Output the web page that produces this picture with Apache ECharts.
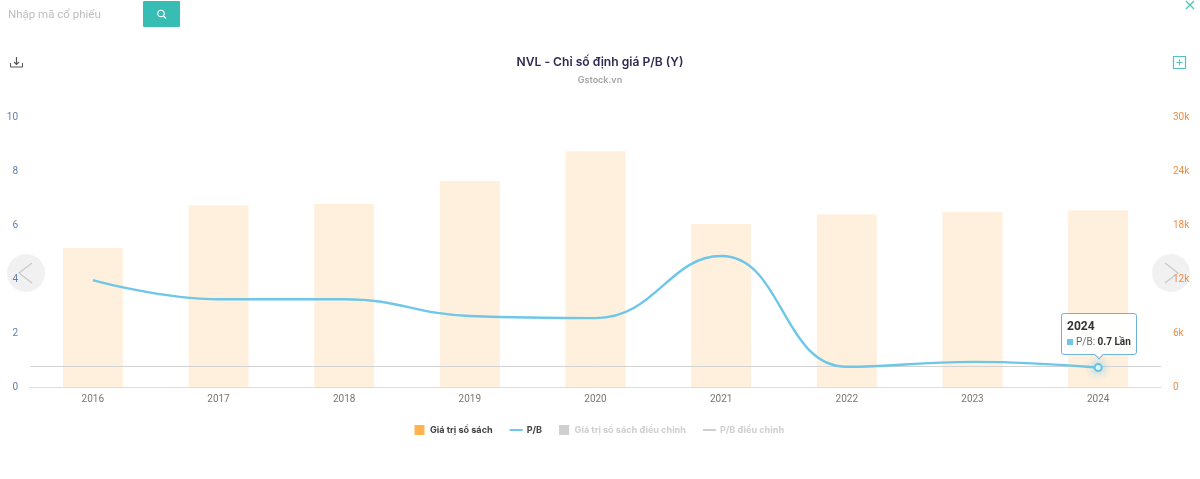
<!DOCTYPE html>
<html>
<head>
<meta charset="utf-8">
<style>html,body{margin:0;padding:0;background:#fff}#c{width:1200px;height:479px}</style>
<script src="https://cdn.jsdelivr.net/npm/echarts@6/dist/echarts.min.js"></script>
</head>
<body>
<div id="c"></div>
<script>
const years = ['2016','2017','2018','2019','2020','2021','2022','2023','2024'];
const bookValue = [15450,20200,20350,22900,26200,18100,19200,19450,19650];
const pb = [3.96,3.25,3.25,2.63,2.55,4.85,0.75,0.93,0.72];
const pbRefLine = 0.78;
const adjBookValue = [];
const adjPb = [];
const FONT = 'Roboto, sans-serif';
const chart = echarts.init(document.getElementById('c'), null, {renderer:'canvas'});
const navFill = 'rgba(238,236,238,0.75)';
const navStroke = 'rgba(190,190,190,0.8)';
const teal = '#4fc4bc';
chart.setOption({
  animation:false,
  backgroundColor:'#fff',
  title:{
    text:'NVL - Chỉ số định giá P/B (Y)', subtext:'Gstock.vn', left:'center', top:51, itemGap:8,
    textStyle:{fontFamily:'Inter, sans-serif',fontSize:12.1,fontWeight:600,color:'#2e2a52'},
    subtextStyle:{fontFamily:'Inter, sans-serif',fontSize:9,fontWeight:600,color:'#a3a3a3'}
  },
  legend:{
    top:420, left:409.5, itemWidth:13, itemHeight:10, itemGap:17,
    inactiveColor:'#cfcfcf',
    textStyle:{fontFamily:'Inter, sans-serif',fontSize:9.1,fontWeight:700,color:'#444',padding:[0,0,0,-1]},
    selected:{'Giá trị sổ sách':true,'P/B':true,'Giá trị sổ sách điều chỉnh':false,'P/B điều chỉnh':false},
    data:[
      {name:'Giá trị sổ sách',icon:'path://M0 0H10V10H0Z',itemStyle:{color:'#ffb44f'}},
      {name:'P/B',icon:'path://M0 0H13V2H0Z',itemStyle:{color:'#6ec6e8'}},
      {name:'Giá trị sổ sách điều chỉnh',icon:'path://M0 0H10V10H0Z'},
      {name:'P/B điều chỉnh',icon:'path://M0 0H13V2H0Z'}
    ]
  },
  tooltip:{
    trigger:'item', position:'top', alwaysShowContent:true, transitionDuration:0,
    backgroundColor:'rgba(255,255,255,0.95)', borderColor:'#6fb3dc', borderWidth:1, padding:[5,5,5,5],
    extraCssText:'box-shadow:none;border-radius:3px;margin-top:2px;margin-left:1px;',
    formatter:()=>'<div style="font:700 12px Roboto,sans-serif;color:#333;line-height:14px">'+years[8]+'</div>'
      +'<div style="font:10px Roboto,sans-serif;color:#666;line-height:14px;margin-top:2px"><span style="display:inline-block;width:6px;height:6px;background:#6ec6e8;margin-right:3px"></span>P/B: <b style="color:#333">'+pb[8].toFixed(1)+' Lần</b></div>'
  },
  grid:{left:30,right:39,top:117,bottom:92},
  xAxis:{
    type:'category', data:years,
    axisTick:{show:false},
    axisLine:{lineStyle:{color:'#d9dced',width:1}},
    axisLabel:{fontFamily:FONT,fontSize:10,color:'#777',margin:7}
  },
  yAxis:[
    {type:'value',min:0,max:10,interval:2,splitLine:{show:false},axisLine:{show:false},axisTick:{show:false},
     axisLabel:{fontFamily:FONT,fontSize:10,color:'#5f7fb0',margin:12}},
    {type:'value',min:0,max:30000,interval:6000,splitLine:{show:false},axisLine:{show:false},axisTick:{show:false},
     axisLabel:{fontFamily:FONT,fontSize:10,color:'#f08c42',margin:12,formatter:v=>v===0?'0':(v/1000)+'k'}}
  ],
  series:[
    {name:'Giá trị sổ sách',type:'bar',yAxisIndex:1,data:bookValue,barWidth:60,itemStyle:{color:'#fff0dd'},z:1},
    {name:'P/B',type:'line',yAxisIndex:0,smooth:0.45,showAllSymbol:true,z:5,
     data:pb.map((v,i)=>i===pb.length-1
       ?{value:v,symbol:'circle',symbolSize:7,itemStyle:{color:'#fff',borderColor:'#62c3e6',borderWidth:2,shadowColor:'rgba(110,198,232,0.9)',shadowBlur:10}}
       :{value:v,symbol:'none'}),
     lineStyle:{color:'#6ec6e8',width:2.4},itemStyle:{color:'#6ec6e8'},
     markLine:{silent:true,symbol:'none',label:{show:false},animation:false,
       lineStyle:{color:'#d2d2d2',width:1,type:'solid'},data:[{yAxis:pbRefLine}]}},
    {name:'Giá trị sổ sách điều chỉnh',type:'bar',yAxisIndex:1,data:adjBookValue,itemStyle:{color:'#ccc'}},
    {name:'P/B điều chỉnh',type:'line',yAxisIndex:0,data:adjPb,symbol:'none',lineStyle:{color:'#ccc'},itemStyle:{color:'#ccc'}}
  ],
  graphic:[
    {type:'text',left:8,top:9,silent:true,style:{text:'Nhập mã cổ phiếu',font:'11.5px Roboto, sans-serif',fill:'#bdbdbd'}},
    {type:'rect',silent:true,shape:{x:143,y:1,width:37,height:26,r:1},style:{fill:'#38bdb4'}},
    {type:'circle',silent:true,shape:{cx:161,cy:13.5,r:3.2},style:{fill:'none',stroke:'#fff',lineWidth:1.1}},
    {type:'line',silent:true,shape:{x1:163.5,y1:16,x2:166,y2:18.5},style:{stroke:'#fff',lineWidth:1.2}},
    {type:'polyline',silent:true,shape:{points:[[10.5,63],[10.5,67],[22.5,67],[22.5,63]]},style:{fill:'none',stroke:'#555',lineWidth:1}},
    {type:'line',silent:true,shape:{x1:16.5,y1:57,x2:16.5,y2:64},style:{stroke:'#555',lineWidth:1.2}},
    {type:'polyline',silent:true,shape:{points:[[14,62],[16.5,64.5],[19,62]]},style:{fill:'none',stroke:'#555',lineWidth:1.1}},
    {type:'rect',silent:true,shape:{x:1173.5,y:56.5,width:12,height:12},style:{fill:'none',stroke:teal,lineWidth:1.2}},
    {type:'line',silent:true,shape:{x1:1176.5,y1:62.5,x2:1182.5,y2:62.5},style:{stroke:teal,lineWidth:1}},
    {type:'line',silent:true,shape:{x1:1179.5,y1:59.5,x2:1179.5,y2:65.5},style:{stroke:teal,lineWidth:1}},
    {type:'line',silent:true,shape:{x1:1186,y1:1,x2:1194,y2:9},style:{stroke:teal,lineWidth:1.3}},
    {type:'line',silent:true,shape:{x1:1194,y1:1,x2:1186,y2:9},style:{stroke:teal,lineWidth:1.3}},
    {type:'circle',silent:true,z:-1,shape:{cx:26,cy:273,r:19},style:{fill:navFill}},
    {type:'polyline',silent:true,z:21,shape:{points:[[32,263],[19,273],[32,283]]},style:{fill:'none',stroke:navStroke,lineWidth:1.2}},
    {type:'circle',silent:true,z:-1,shape:{cx:1171,cy:273,r:19},style:{fill:navFill}},
    {type:'polyline',silent:true,z:21,shape:{points:[[1165,263],[1178,273],[1165,283]]},style:{fill:'none',stroke:navStroke,lineWidth:1.2}}
  ]
});
chart.dispatchAction({type:'showTip',seriesIndex:1,dataIndex:8});
</script>
</body>
</html>
